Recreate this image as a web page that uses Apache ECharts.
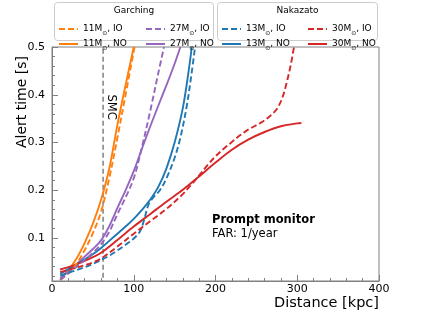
<!DOCTYPE html>
<html><head><meta charset="utf-8">
<script src="https://cdn.jsdelivr.net/npm/echarts@6/dist/echarts.min.js"></script>
<style>html,body{margin:0;padding:0;background:#fff}#c{width:421px;height:316px}</style>
</head><body><div id="c"></div>
<script>
// ---- data (distance in kpc, alert time in s) ----
const g11NO_x = [10, 20, 30, 40, 50, 60, 70, 80, 90, 100];
const g11NO_y = [0.015, 0.033, 0.057, 0.09, 0.13, 0.18, 0.245, 0.337, 0.42, 0.5];
const g11IO_x = [10, 20, 30, 40, 50, 60, 70, 80, 90, 101];
const g11IO_y = [0.012, 0.026, 0.046, 0.075, 0.11, 0.155, 0.225, 0.31, 0.4, 0.5];
const g27NO_x = [10, 20, 30, 40, 50, 60, 70, 80, 90, 100, 110, 120, 130, 140, 150, 157];
const g27NO_y = [0.015, 0.03, 0.045, 0.061, 0.077, 0.095, 0.125, 0.163, 0.2, 0.24, 0.287, 0.333, 0.377, 0.42, 0.465, 0.5];
const g27IO_x = [10, 20, 30, 40, 50, 60, 70, 80, 90, 100, 110, 120, 130, 137];
const g27IO_y = [0.012, 0.026, 0.04, 0.054, 0.069, 0.087, 0.113, 0.15, 0.185, 0.225, 0.29, 0.365, 0.445, 0.5];
const n13NO_x = [10, 20, 30, 40, 50, 60, 70, 80, 90, 100, 110, 120, 130, 140, 150, 160, 167, 171];
const n13NO_y = [0.025, 0.035, 0.045, 0.055, 0.066, 0.079, 0.094, 0.109, 0.124, 0.14, 0.159, 0.18, 0.207, 0.246, 0.3, 0.372, 0.448, 0.5];
const n13IO_x = [10, 20, 30, 40, 50, 60, 70, 80, 90, 100, 108, 113, 118, 124, 132, 140, 150, 157, 165, 171, 175];
const n13IO_y = [0.021, 0.027, 0.033, 0.039, 0.046, 0.054, 0.063, 0.074, 0.086, 0.099, 0.115, 0.14, 0.17, 0.185, 0.2, 0.225, 0.268, 0.31, 0.378, 0.448, 0.5];
const n30NO_x = [10, 20, 30, 40, 50, 60, 80, 100, 120, 140, 160, 180, 200, 220, 240, 260, 280, 300, 305];
const n30NO_y = [0.034, 0.039, 0.045, 0.052, 0.06, 0.069, 0.096, 0.124, 0.15, 0.176, 0.201, 0.229, 0.258, 0.285, 0.306, 0.322, 0.334, 0.34, 0.341];
const n30IO_x = [10, 20, 30, 40, 50, 60, 80, 100, 120, 140, 160, 170, 180, 190, 200, 210, 220, 230, 240, 255, 265, 275, 282, 287, 292, 296];
const n30IO_y = [0.029, 0.033, 0.038, 0.043, 0.049, 0.057, 0.082, 0.109, 0.135, 0.161, 0.192, 0.211, 0.231, 0.252, 0.271, 0.287, 0.301, 0.315, 0.327, 0.341, 0.353, 0.37, 0.395, 0.425, 0.462, 0.5];
const smcDistance = 62.5;
const yMajorTicks = [0.1, 0.2, 0.3, 0.4, 0.5];
const yMinorTicks = [0.02, 0.04, 0.06, 0.08, 0.12, 0.14, 0.16, 0.18, 0.22, 0.24, 0.26, 0.28, 0.32, 0.34, 0.36, 0.38, 0.42, 0.44, 0.46, 0.48];

const C = {orange:'#ff7f0e', purple:'#9467bd', blue:'#1f77b4', red:'#d62728'};
const zip = (xs, ys) => xs.map((x, i) => [x, ys[i]]);
function mk(name, xs, ys, color, dashed) {
  return {name, type:'line', data: zip(xs, ys), showSymbol:false, symbol:'none',
    smooth:0.35, clip:true,
    lineStyle:{color, width:1.9, type: dashed ? [6,3] : 'solid'}, itemStyle:{color}, z: dashed ? 3 : 2};
}
const series = [
  mk('11M⊙, IO', g11IO_x, g11IO_y, C.orange, true),
  mk('11M⊙, NO', g11NO_x, g11NO_y, C.orange, false),
  mk('27M⊙, IO', g27IO_x, g27IO_y, C.purple, true),
  mk('27M⊙, NO', g27NO_x, g27NO_y, C.purple, false),
  mk('13M⊙, IO', n13IO_x, n13IO_y, C.blue, true),
  mk('13M⊙, NO', n13NO_x, n13NO_y, C.blue, false),
  mk('30M⊙, IO', n30IO_x, n30IO_y, C.red, true),
  mk('30M⊙, NO', n30NO_x, n30NO_y, C.red, false),
  {name:'SMC', type:'line', data:[[smcDistance, 0.0], [smcDistance, 0.6]], symbol:'none', silent:true,
   lineStyle:{color:'#808080', width:1.5, type:[5,3]}, z:1}
];
const FF = 'DejaVu Sans';
function leg(names, left) {
  return {data: names, orient:'vertical', left, top:17, itemWidth:19, itemHeight:10, itemGap:1, z:5,
    itemStyle:{opacity:0},
    textStyle:{fontFamily:FF, fontSize:9, color:'#000', lineHeight:12,
      rich:{s:{fontFamily:FF, fontSize:6, verticalAlign:'bottom', lineHeight:14}}},
    formatter: n => n.replace('M⊙', 'M{s|⊙}')};
}
const chart = echarts.init(document.getElementById('c'), null, {renderer:'canvas'});
chart.setOption({
  animation:false,
  textStyle:{fontFamily:FF},
  grid:{left:52, right:42, top:47, bottom:35, show:true, borderColor:'#808080', borderWidth:1, backgroundColor:'transparent'},
  xAxis:{type:'value', min:0, max:400, interval:100,
    axisLine:{show:true, lineStyle:{color:'#808080'}},
    axisTick:{inside:true, length:6, lineStyle:{color:'#808080'}},
    minorTick:{show:true, splitNumber:5, length:3, lineStyle:{color:'#808080'}},
    axisLabel:{color:'#000', fontSize:11, margin:3, fontFamily:FF},
    splitLine:{show:false}},
  yAxis:[{type:'value', min:0.01, max:0.5, position:'left',
    axisLine:{show:true, lineStyle:{color:'#808080'}},
    axisTick:{inside:true, length:6, customValues: yMajorTicks, lineStyle:{color:'#808080'}},
    axisLabel:{customValues: yMajorTicks, color:'#000', fontSize:11, margin:7, fontFamily:FF, formatter: v => v.toFixed(1)},
    splitLine:{show:false}},
   {type:'value', min:0.01, max:0.5, position:'left', offset:0,
    axisLine:{show:false},
    axisTick:{show:true, inside:true, length:3, customValues: yMinorTicks, lineStyle:{color:'#808080'}},
    axisLabel:{show:false}, splitLine:{show:false}}],
  legend:[
    leg(['11M⊙, IO','11M⊙, NO'], 53),
    leg(['27M⊙, IO','27M⊙, NO'], 140),
    leg(['13M⊙, IO','13M⊙, NO'], 216),
    leg(['30M⊙, IO','30M⊙, NO'], 302)
  ],
  series
});
const p = chart.convertToPixel({gridIndex:0}, [smcDistance, 0.374]);
chart.setOption({graphic:[
  {type:'rect', z:1, shape:{x:54.5, y:2.5, width:159, height:38, r:3}, style:{fill:'#fff', stroke:'#cccccc', lineWidth:1}},
  {type:'rect', z:1, shape:{x:217.5, y:2.5, width:160, height:38, r:3}, style:{fill:'#fff', stroke:'#cccccc', lineWidth:1}},
  {type:'text', z:6, style:{text:'Garching', x:134, y:11, align:'center', verticalAlign:'middle', fontSize:9, fontFamily:FF, fill:'#000'}},
  {type:'text', z:6, style:{text:'Nakazato', x:297.5, y:11, align:'center', verticalAlign:'middle', fontSize:9, fontFamily:FF, fill:'#000'}},
  {type:'text', z:6, x:p[0]+8, y:p[1], rotation:-Math.PI/2, style:{text:'SMC', x:0, y:0, align:'center', verticalAlign:'middle', fontSize:11.5, fontFamily:FF, fill:'#000'}},
  {type:'text', z:6, x:22, y:102, rotation:Math.PI/2, style:{text:'Alert time [s]', x:0, y:0, align:'center', verticalAlign:'middle', fontSize:14, fontFamily:FF, fill:'#000'}},
  {type:'text', z:6, style:{text:'Prompt monitor', x:212, y:220, align:'left', verticalAlign:'middle', fontSize:11.5, fontWeight:'bold', fontFamily:FF, fill:'#000'}},
  {type:'text', z:6, style:{text:'FAR: 1/year', x:212, y:234, align:'left', verticalAlign:'middle', fontSize:11.5, fontFamily:FF, fill:'#000'}},
  {type:'text', z:6, style:{text:'Distance [kpc]', x:379, y:303, align:'right', verticalAlign:'middle', fontSize:14.5, fontFamily:FF, fill:'#000'}}
]});
</script></body></html>
